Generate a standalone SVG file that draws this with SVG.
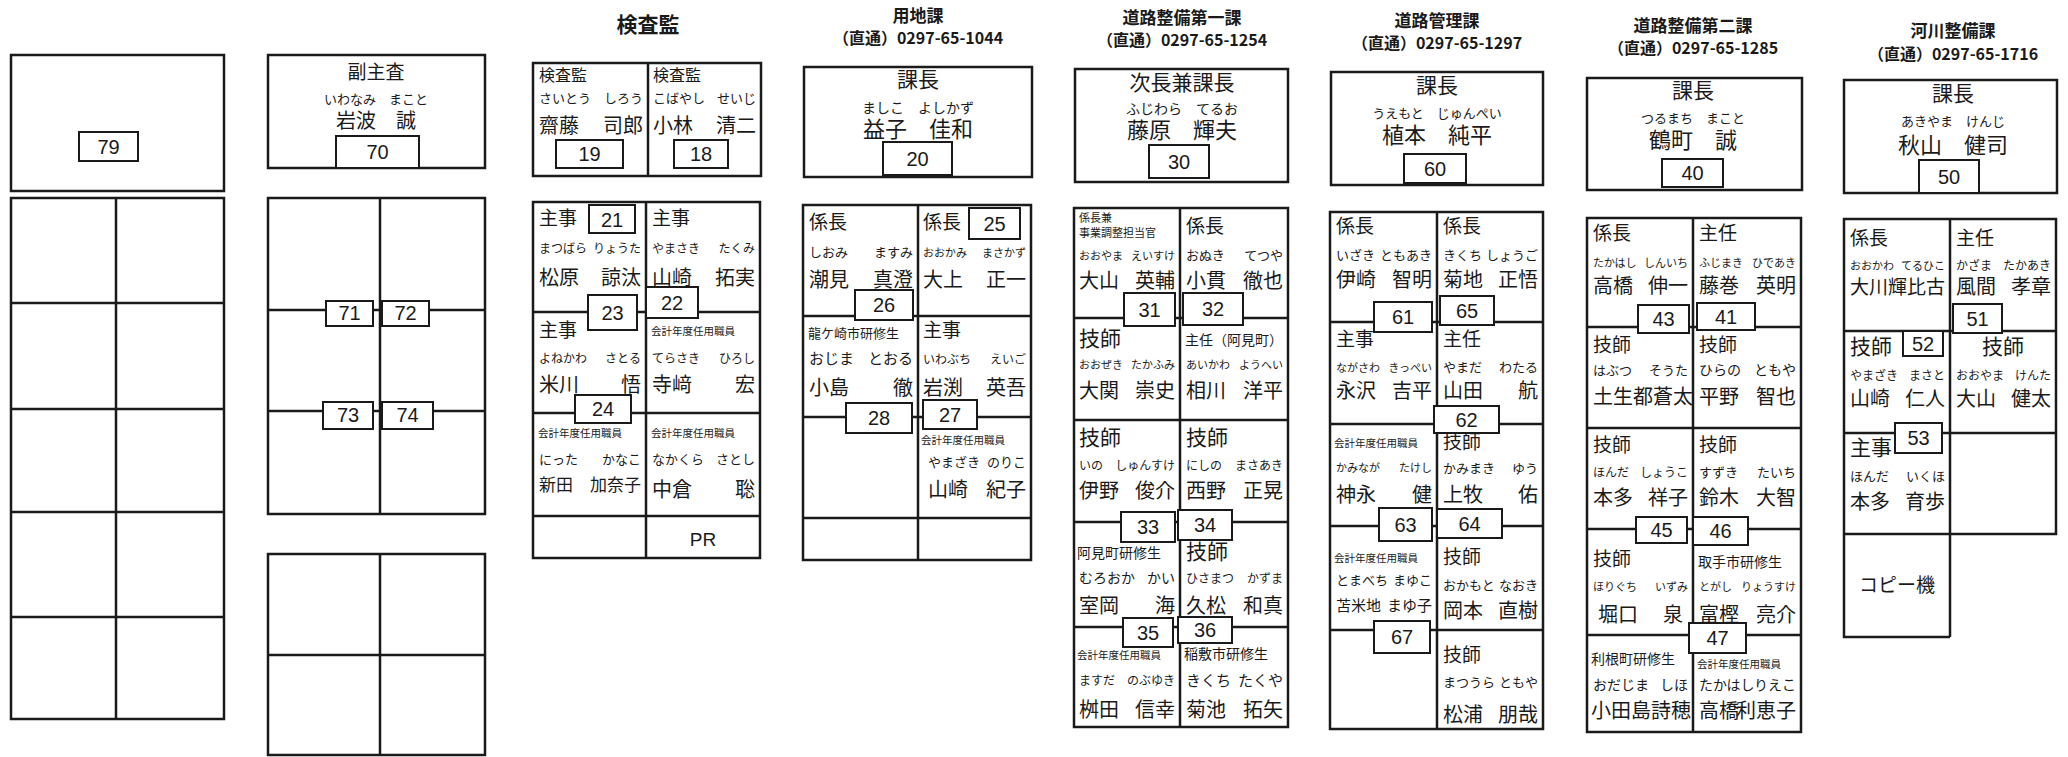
<svg xmlns="http://www.w3.org/2000/svg" width="2068" height="757" viewBox="0 0 2068 757">
<style>
text{font-family:"Noto Sans CJK JP","Noto Sans CJK SC",sans-serif;fill:#1a1a1a}
.t{font-size:17px;font-weight:bold;text-anchor:middle}
.t2{font-size:16px;font-weight:bold;text-anchor:middle}
.r{font-size:19px}
.rb{font-size:21px}
.k{font-size:13px}
.k11{font-size:11px}
.k12{font-size:12px}
.k14{font-size:14px}
.k15{font-size:15px}
.n{font-size:20px}
.n17{font-size:17px}
.n22{font-size:22px}
.s{font-size:10.5px}
.m{text-anchor:middle}
.e{text-anchor:end}
.num{font-family:"Liberation Sans",Arial,sans-serif;font-size:20px;text-anchor:middle}
.g{fill:none;stroke:#1a1a1a;stroke-width:2.5}
.nb{fill:#fff;stroke:#1a1a1a;stroke-width:2}
</style>
<rect width="2068" height="757" fill="#fff"/>
<g id="connectors"/>

<!-- Column 1 -->
<g id="col1">
  <g id="seat-79">
    <rect class="g" x="11" y="55" width="213" height="136"/>
    <rect class="nb" x="79" y="132" width="59" height="29"/><text class="num" x="108.5" y="154">79</text>
  </g>
  <g id="grid1">
    <path class="g" d="M11 198H224V719H11Z M116 198V719 M11 303H224 M11 409H224 M11 512H224 M11 617H224"/>
  </g>
</g>

<!-- Column 2 -->
<g id="col2">
  <g id="seat-70">
    <rect class="g" x="268" y="55" width="217" height="113"/>
    <text class="r m" x="376" y="79">副主査</text>
    <text class="k m" x="376" y="104">いわなみ　まこと</text>
    <text class="n m" x="376" y="128">岩波　誠</text>
    <rect class="nb" x="336" y="136" width="83" height="32"/><text class="num" x="377.5" y="159">70</text>
  </g>
  <g id="grid2">
    <path class="g" d="M268 198H485V514H268Z M380 198V514 M268 310H485 M268 411H485"/>
    <rect class="nb" x="326" y="301" width="47" height="25"/><text class="num" x="349.5" y="320">71</text>
    <rect class="nb" x="382" y="301" width="47" height="25"/><text class="num" x="405.5" y="320">72</text>
    <rect class="nb" x="323" y="402" width="50" height="27"/><text class="num" x="348" y="422">73</text>
    <rect class="nb" x="382" y="402" width="51" height="27"/><text class="num" x="407.5" y="422">74</text>
  </g>
  <g id="grid3">
    <path class="g" d="M268 554H485V755H268Z M380 554V755 M268 655H485"/>
  </g>
</g>

<!-- Column 3: 検査監 -->
<g id="col3">
  <text x="648" y="32" style="font-size:21px;font-weight:bold;text-anchor:middle">検査監</text>
  <g id="seat-19">
    <path class="g" d="M533 63H761V176H533Z M648 63V176"/>
    <text class="r" x="539" y="81" style="font-size:16px">検査監</text>
    <text class="k" x="539" y="103">さいとう</text><text class="k e" x="643" y="103">しろう</text>
    <text class="n" x="539" y="133">齋藤</text><text class="n e" x="643" y="133">司郎</text>
    <rect class="nb" x="556" y="140" width="67" height="28"/><text class="num" x="589.5" y="161">19</text>
  </g>
  <g id="seat-18">
    <text class="r" x="653" y="81" style="font-size:16px">検査監</text>
    <text class="k" x="653" y="103">こばやし</text><text class="k e" x="756" y="103">せいじ</text>
    <text class="n" x="653" y="133">小林</text><text class="n e" x="756" y="133">清二</text>
    <rect class="nb" x="674" y="140" width="54" height="28"/><text class="num" x="701" y="161">18</text>
  </g>
  <path class="g" d="M533 202H760V558H533Z M646 202V558 M533 312H760 M533 413H760 M533 516H760"/>
  <g id="seat-21">
    <text class="r" x="539" y="225">主事</text>
    <text class="k12" x="539" y="253">まつばら</text><text class="k12 e" x="641" y="253">りょうた</text>
    <text class="n" x="539" y="285">松原</text><text class="n e" x="641" y="285">諒汰</text>
  </g>
  <g id="seat-22">
    <text class="r" x="652" y="225">主事</text>
    <text class="k12" x="652" y="253">やまさき</text><text class="k12 e" x="755" y="253">たくみ</text>
    <text class="n" x="652" y="285">山崎</text><text class="n e" x="755" y="285">拓実</text>
  </g>
  <g id="seat-23">
    <text class="r" x="539" y="337">主事</text>
    <text class="k12" x="539" y="363">よねかわ</text><text class="k12 e" x="641" y="363">さとる</text>
    <text class="n" x="539" y="392">米川</text><text class="n e" x="641" y="392">悟</text>
  </g>
  <g id="seat-R2">
    <text class="s" x="651" y="335">会計年度任用職員</text>
    <text class="k12" x="652" y="363">てらさき</text><text class="k12 e" x="755" y="363">ひろし</text>
    <text class="n" x="652" y="392">寺﨑</text><text class="n e" x="755" y="392">宏</text>
  </g>
  <g id="seat-24">
    <text class="s" x="538" y="437">会計年度任用職員</text>
    <text class="k" x="539" y="464">にった</text><text class="k e" x="641" y="464">かなこ</text>
    <text class="n17" x="539" y="491">新田</text><text class="n17 e" x="641" y="491">加奈子</text>
  </g>
  <g id="seat-R3">
    <text class="s" x="651" y="437">会計年度任用職員</text>
    <text class="k" x="652" y="464">なかくら</text><text class="k e" x="755" y="464">さとし</text>
    <text class="n" x="652" y="497">中倉</text><text class="n e" x="755" y="497">聡</text>
  </g>
  <g id="pr"><text class="num" x="703" y="546" style="font-size:19px">PR</text></g>
  <rect class="nb" x="589" y="205" width="46" height="28"/><text class="num" x="612" y="227">21</text>
  <rect class="nb" x="588" y="295" width="49" height="35"/><text class="num" x="612.5" y="320">23</text>
  <rect class="nb" x="646" y="287" width="52" height="31"/><text class="num" x="672" y="310">22</text>
  <rect class="nb" x="575" y="395" width="56" height="28"/><text class="num" x="603" y="416">24</text>
</g>

<!-- Column 4: 用地課 -->
<g id="col4">
  <text class="t" x="918" y="22">用地課</text>
  <text class="t2" x="918" y="44">（直通）0297-65-1044</text>
  <g id="seat-20">
    <rect class="g" x="804" y="67" width="228" height="110"/>
    <text class="rb m" x="918" y="87">課長</text>
    <text class="k14 m" x="918" y="113">ましこ　よしかず</text>
    <text class="n22 m" x="918" y="137">益子　佳和</text>
    <rect class="nb" x="883" y="142" width="69" height="33"/><text class="num" x="917.5" y="166">20</text>
  </g>
  <path class="g" d="M803 205H1031V560H803Z M918 205V560 M803 316H1031 M803 417H1031 M803 518H1031"/>
  <g id="seat-26">
    <text class="r" x="809" y="229">係長</text>
    <text class="k" x="809" y="257">しおみ</text><text class="k e" x="913" y="257">ますみ</text>
    <text class="n" x="809" y="287">潮見</text><text class="n e" x="913" y="287">真澄</text>
  </g>
  <g id="seat-25">
    <text class="r" x="923" y="229">係長</text>
    <text class="k11" x="923" y="257">おおかみ</text><text class="k11 e" x="1026" y="257">まさかず</text>
    <text class="n" x="923" y="287">大上</text><text class="n e" x="1026" y="287">正一</text>
  </g>
  <g id="seat-28">
    <text class="k" x="808" y="338">龍ケ崎市研修生</text>
    <text class="k15" x="809" y="364">おじま</text><text class="k15 e" x="913" y="364">とおる</text>
    <text class="n" x="809" y="395">小島</text><text class="n e" x="913" y="395">徹</text>
  </g>
  <g id="seat-27">
    <text class="r" x="923" y="337">主事</text>
    <text class="k12" x="923" y="364">いわぶち</text><text class="k12 e" x="1026" y="364">えいご</text>
    <text class="n" x="923" y="395">岩渕</text><text class="n e" x="1026" y="395">英吾</text>
  </g>
  <g id="seat-R3-4">
    <text class="s" x="921" y="444">会計年度任用職員</text>
    <text class="k" x="928" y="467">やまざき</text><text class="k e" x="1026" y="467">のりこ</text>
    <text class="n" x="928" y="497">山崎</text><text class="n e" x="1026" y="497">紀子</text>
  </g>
  <rect class="nb" x="969" y="208" width="51" height="31"/><text class="num" x="994.5" y="231">25</text>
  <rect class="nb" x="855" y="290" width="58" height="30"/><text class="num" x="884" y="312">26</text>
  <rect class="nb" x="846" y="403" width="66" height="30"/><text class="num" x="879" y="425">28</text>
  <rect class="nb" x="923" y="400" width="54" height="29"/><text class="num" x="950" y="422">27</text>
</g>

<!-- Column 5: 道路整備第一課 -->
<g id="col5">
  <text class="t" x="1182" y="24">道路整備第一課</text>
  <text class="t2" x="1182" y="46">（直通）0297-65-1254</text>
  <g id="seat-30">
    <rect class="g" x="1075" y="69" width="213" height="113"/>
    <text class="rb m" x="1182" y="90">次長兼課長</text>
    <text class="k14 m" x="1182" y="114">ふじわら　てるお</text>
    <text class="n22 m" x="1182" y="138">藤原　輝夫</text>
    <rect class="nb" x="1149" y="145" width="60" height="33"/><text class="num" x="1179" y="169">30</text>
  </g>
  <path class="g" d="M1074 208H1288V727H1074Z M1180 208V727 M1074 318H1288 M1074 420H1288 M1074 522H1288 M1074 627H1288"/>
  <g id="seat-31">
    <text class="k11" x="1079" y="222">係長兼</text>
    <text class="k11" x="1079" y="237">事業調整担当官</text>
    <text class="k11" x="1079" y="260">おおやま</text><text class="k11 e" x="1175" y="260">えいすけ</text>
    <text class="n" x="1079" y="288">大山</text><text class="n e" x="1175" y="288">英輔</text>
  </g>
  <g id="seat-32">
    <text class="r" x="1186" y="233">係長</text>
    <text class="k" x="1186" y="260">おぬき</text><text class="k e" x="1283" y="260">てつや</text>
    <text class="n" x="1186" y="288">小貫</text><text class="n e" x="1283" y="288">徹也</text>
  </g>
  <g id="seat-L2-5">
    <text class="rb" x="1079" y="346">技師</text>
    <text class="k11" x="1079" y="369">おおぜき</text><text class="k11 e" x="1175" y="369">たかふみ</text>
    <text class="n" x="1079" y="398">大関</text><text class="n e" x="1175" y="398">崇史</text>
  </g>
  <g id="seat-R2-5">
    <text class="k14" x="1185" y="345">主任（阿見町）</text>
    <text class="k11" x="1186" y="369">あいかわ</text><text class="k11 e" x="1283" y="369">ようへい</text>
    <text class="n" x="1186" y="398">相川</text><text class="n e" x="1283" y="398">洋平</text>
  </g>
  <g id="seat-33">
    <text class="rb" x="1079" y="445">技師</text>
    <text class="k12" x="1079" y="470">いの</text><text class="k12 e" x="1175" y="470">しゅんすけ</text>
    <text class="n" x="1079" y="498">伊野</text><text class="n e" x="1175" y="498">俊介</text>
  </g>
  <g id="seat-34">
    <text class="rb" x="1186" y="445">技師</text>
    <text class="k12" x="1186" y="470">にしの</text><text class="k12 e" x="1283" y="470">まさあき</text>
    <text class="n" x="1186" y="498">西野</text><text class="n e" x="1283" y="498">正晃</text>
  </g>
  <g id="seat-35">
    <text class="k14" x="1077" y="558">阿見町研修生</text>
    <text class="k14" x="1079" y="583">むろおか</text><text class="k14 e" x="1175" y="583">かい</text>
    <text class="n" x="1079" y="613">室岡</text><text class="n e" x="1175" y="613">海</text>
  </g>
  <g id="seat-36">
    <text class="rb" x="1186" y="559">技師</text>
    <text class="k12" x="1186" y="583">ひさまつ</text><text class="k12 e" x="1283" y="583">かずま</text>
    <text class="n" x="1186" y="613">久松</text><text class="n e" x="1283" y="613">和真</text>
  </g>
  <g id="seat-L5-5">
    <text class="s" x="1077" y="659">会計年度任用職員</text>
    <text class="k12" x="1079" y="685">ますだ</text><text class="k12 e" x="1175" y="685">のぶゆき</text>
    <text class="n" x="1079" y="717">桝田</text><text class="n e" x="1175" y="717">信幸</text>
  </g>
  <g id="seat-R5-5">
    <text class="k14" x="1184" y="659">稲敷市研修生</text>
    <text class="k15" x="1186" y="686">きくち</text><text class="k15 e" x="1283" y="686">たくや</text>
    <text class="n" x="1186" y="717">菊池</text><text class="n e" x="1283" y="717">拓矢</text>
  </g>
  <rect class="nb" x="1124" y="293" width="51" height="33"/><text class="num" x="1149.5" y="317">31</text>
  <rect class="nb" x="1183" y="293" width="60" height="32"/><text class="num" x="1213" y="316">32</text>
  <rect class="nb" x="1121" y="512" width="54" height="30"/><text class="num" x="1148" y="534">33</text>
  <rect class="nb" x="1178" y="510" width="54" height="30"/><text class="num" x="1205" y="532">34</text>
  <rect class="nb" x="1123" y="618" width="50" height="29"/><text class="num" x="1148" y="640">35</text>
  <rect class="nb" x="1178" y="617" width="54" height="26"/><text class="num" x="1205" y="637">36</text>
</g>

<!-- Column 6: 道路管理課 -->
<g id="col6">
  <text class="t" x="1437" y="27">道路管理課</text>
  <text class="t2" x="1437" y="49">（直通）0297-65-1297</text>
  <g id="seat-60">
    <rect class="g" x="1331" y="72" width="212" height="113"/>
    <text class="rb m" x="1437" y="93">課長</text>
    <text class="k m" x="1437" y="118">うえもと　じゅんぺい</text>
    <text class="n22 m" x="1437" y="143">植本　純平</text>
    <rect class="nb" x="1404" y="154" width="62" height="29"/><text class="num" x="1435" y="176">60</text>
  </g>
  <path class="g" d="M1330 212H1543V729H1330Z M1437 212V729 M1330 322H1543 M1330 424H1543 M1330 526H1543 M1330 630H1543"/>
  <g id="seat-61">
    <text class="r" x="1336" y="233">係長</text>
    <text class="k" x="1336" y="260">いざき</text><text class="k e" x="1432" y="260">ともあき</text>
    <text class="n" x="1336" y="287">伊崎</text><text class="n e" x="1432" y="287">智明</text>
  </g>
  <g id="seat-65">
    <text class="r" x="1443" y="233">係長</text>
    <text class="k" x="1443" y="260">きくち</text><text class="k e" x="1538" y="260">しょうご</text>
    <text class="n" x="1443" y="287">菊地</text><text class="n e" x="1538" y="287">正悟</text>
  </g>
  <g id="seat-L2-6">
    <text class="r" x="1336" y="346">主事</text>
    <text class="k11" x="1336" y="372">ながさわ</text><text class="k11 e" x="1432" y="372">きっぺい</text>
    <text class="n" x="1336" y="398">永沢</text><text class="n e" x="1432" y="398">吉平</text>
  </g>
  <g id="seat-62">
    <text class="r" x="1443" y="346">主任</text>
    <text class="k" x="1443" y="372">やまだ</text><text class="k e" x="1538" y="372">わたる</text>
    <text class="n" x="1443" y="398">山田</text><text class="n e" x="1538" y="398">航</text>
  </g>
  <g id="seat-63">
    <text class="s" x="1334" y="447">会計年度任用職員</text>
    <text class="k11" x="1336" y="472">かみなが</text><text class="k11 e" x="1432" y="472">たけし</text>
    <text class="n" x="1336" y="502">神永</text><text class="n e" x="1432" y="502">健</text>
  </g>
  <g id="seat-64">
    <text class="r" x="1443" y="449">技師</text>
    <text class="k" x="1443" y="473">かみまき</text><text class="k e" x="1538" y="473">ゆう</text>
    <text class="n" x="1443" y="502">上牧</text><text class="n e" x="1538" y="502">佑</text>
  </g>
  <g id="seat-67">
    <text class="s" x="1334" y="562">会計年度任用職員</text>
    <text class="k" x="1336" y="585">とまべち</text><text class="k e" x="1432" y="585">まゆこ</text>
    <text class="k15" x="1336" y="611">苫米地</text><text class="k15 e" x="1432" y="611">まゆ子</text>
  </g>
  <g id="seat-R4-6">
    <text class="r" x="1443" y="564">技師</text>
    <text class="k" x="1443" y="590">おかもと</text><text class="k e" x="1538" y="590">なおき</text>
    <text class="n" x="1443" y="618">岡本</text><text class="n e" x="1538" y="618">直樹</text>
  </g>
  <g id="seat-R5-6">
    <text class="r" x="1443" y="662">技師</text>
    <text class="k" x="1443" y="687">まつうら</text><text class="k e" x="1538" y="687">ともや</text>
    <text class="n" x="1443" y="722">松浦</text><text class="n e" x="1538" y="722">朋哉</text>
  </g>
  <rect class="nb" x="1374" y="302" width="58" height="30"/><text class="num" x="1403" y="324">61</text>
  <rect class="nb" x="1440" y="296" width="54" height="29"/><text class="num" x="1467" y="318">65</text>
  <rect class="nb" x="1434" y="406" width="65" height="27"/><text class="num" x="1466.5" y="427">62</text>
  <rect class="nb" x="1379" y="508" width="53" height="33"/><text class="num" x="1405.5" y="532">63</text>
  <rect class="nb" x="1437" y="509" width="65" height="29"/><text class="num" x="1469.5" y="531">64</text>
  <rect class="nb" x="1374" y="621" width="56" height="32"/><text class="num" x="1402" y="644">67</text>
</g>

<!-- Column 7: 道路整備第二課 -->
<g id="col7">
  <text class="t" x="1693" y="32">道路整備第二課</text>
  <text class="t2" x="1693" y="54">（直通）0297-65-1285</text>
  <g id="seat-40">
    <rect class="g" x="1587" y="78" width="215" height="112"/>
    <text class="rb m" x="1693" y="98">課長</text>
    <text class="k m" x="1693" y="123">つるまち　まこと</text>
    <text class="n22 m" x="1693" y="148">鶴町　誠</text>
    <rect class="nb" x="1662" y="159" width="61" height="28"/><text class="num" x="1692.5" y="180">40</text>
  </g>
  <path class="g" d="M1587 218H1801V732H1587Z M1693 218V732 M1587 327H1801 M1587 428H1801 M1587 529H1801 M1587 635H1801"/>
  <g id="seat-43">
    <text class="r" x="1593" y="240">係長</text>
    <text class="k11" x="1593" y="267">たかはし</text><text class="k11 e" x="1688" y="267">しんいち</text>
    <text class="n" x="1593" y="293">高橋</text><text class="n e" x="1688" y="293">伸一</text>
  </g>
  <g id="seat-41">
    <text class="r" x="1699" y="240">主任</text>
    <text class="k11" x="1699" y="267">ふじまき</text><text class="k11 e" x="1796" y="267">ひであき</text>
    <text class="n" x="1699" y="293">藤巻</text><text class="n e" x="1796" y="293">英明</text>
  </g>
  <g id="seat-L2-7">
    <text class="r" x="1593" y="352">技師</text>
    <text class="k" x="1593" y="375">はぶつ</text><text class="k e" x="1688" y="375">そうた</text>
    <text class="n" x="1593" y="404">土生都蒼太</text>
  </g>
  <g id="seat-R2-7">
    <text class="r" x="1699" y="352">技師</text>
    <text class="k14" x="1699" y="375">ひらの</text><text class="k14 e" x="1796" y="375">ともや</text>
    <text class="n" x="1699" y="404">平野</text><text class="n e" x="1796" y="404">智也</text>
  </g>
  <g id="seat-45">
    <text class="r" x="1593" y="452">技師</text>
    <text class="k12" x="1593" y="477">ほんだ</text><text class="k12 e" x="1688" y="477">しょうこ</text>
    <text class="n" x="1593" y="505">本多</text><text class="n e" x="1688" y="505">祥子</text>
  </g>
  <g id="seat-46">
    <text class="r" x="1699" y="452">技師</text>
    <text class="k" x="1699" y="477">すずき</text><text class="k e" x="1796" y="477">たいち</text>
    <text class="n" x="1699" y="505">鈴木</text><text class="n e" x="1796" y="505">大智</text>
  </g>
  <g id="seat-L4-7">
    <text class="r" x="1593" y="566">技師</text>
    <text class="k11" x="1593" y="591">ほりぐち</text><text class="k11 e" x="1688" y="591">いずみ</text>
    <text class="n" x="1598" y="622">堀口</text><text class="n e" x="1683" y="622">泉</text>
  </g>
  <g id="seat-47">
    <text class="k14" x="1698" y="567">取手市研修生</text>
    <text class="k11" x="1699" y="591">とがし</text><text class="k11 e" x="1796" y="591">りょうすけ</text>
    <text class="n" x="1699" y="622">富樫</text><text class="n e" x="1796" y="622">亮介</text>
  </g>
  <g id="seat-L5-7">
    <text class="k14" x="1591" y="664">利根町研修生</text>
    <text class="k14" x="1593" y="690">おだじま</text><text class="k14 e" x="1688" y="690">しほ</text>
    <text class="n" x="1591" y="718">小田島詩穂</text>
  </g>
  <g id="seat-R5-7">
    <text class="s" x="1697" y="668">会計年度任用職員</text>
    <text class="k14" x="1699" y="690">たかはし</text><text class="k14 e" x="1796" y="690">りえこ</text>
    <text class="n" x="1699" y="718">高橋</text><text class="n e" x="1796" y="718">利恵子</text>
  </g>
  <rect class="nb" x="1638" y="305" width="51" height="28"/><text class="num" x="1663.5" y="326">43</text>
  <rect class="nb" x="1697" y="303" width="58" height="27"/><text class="num" x="1726" y="324">41</text>
  <rect class="nb" x="1636" y="517" width="51" height="26"/><text class="num" x="1661.5" y="537">45</text>
  <rect class="nb" x="1693" y="517" width="55" height="28"/><text class="num" x="1720.5" y="538">46</text>
  <rect class="nb" x="1689" y="623" width="57" height="30"/><text class="num" x="1717.5" y="645">47</text>
</g>

<!-- Column 8: 河川整備課 -->
<g id="col8">
  <text class="t" x="1953" y="37">河川整備課</text>
  <text class="t2" x="1953" y="60">（直通）0297-65-1716</text>
  <g id="seat-50">
    <rect class="g" x="1844" y="80" width="213" height="113"/>
    <text class="rb m" x="1953" y="101">課長</text>
    <text class="k m" x="1953" y="126">あきやま　けんじ</text>
    <text class="n22 m" x="1953" y="153">秋山　健司</text>
    <rect class="nb" x="1919" y="160" width="60" height="33"/><text class="num" x="1949" y="184">50</text>
  </g>
  <path class="g" d="M1844 219H2056V534H1844Z M1950 219V637 M1844 331H2056 M1844 433H2056 M1844 534V637H1950"/>
  <g id="seat-L1-8">
    <text class="r" x="1850" y="245">係長</text>
    <text class="k11" x="1850" y="270">おおかわ</text><text class="k11 e" x="1945" y="270">てるひこ</text>
    <text class="r" x="1850" y="294">大川輝比古</text>
  </g>
  <g id="seat-51">
    <text class="r" x="1956" y="245">主任</text>
    <text class="k12" x="1956" y="270">かざま</text><text class="k12 e" x="2051" y="270">たかあき</text>
    <text class="n" x="1956" y="294">風間</text><text class="n e" x="2051" y="294">孝章</text>
  </g>
  <g id="seat-52">
    <text class="rb" x="1850" y="354">技師</text>
    <text class="k12" x="1850" y="380">やまざき</text><text class="k12 e" x="1945" y="380">まさと</text>
    <text class="n" x="1850" y="406">山崎</text><text class="n e" x="1945" y="406">仁人</text>
  </g>
  <g id="seat-R2-8">
    <text class="rb m" x="2003" y="354">技師</text>
    <text class="k12" x="1956" y="380">おおやま</text><text class="k12 e" x="2051" y="380">けんた</text>
    <text class="n" x="1956" y="406">大山</text><text class="n e" x="2051" y="406">健太</text>
  </g>
  <g id="seat-53">
    <text class="rb" x="1850" y="455">主事</text>
    <text class="k" x="1850" y="481">ほんだ</text><text class="k e" x="1945" y="481">いくほ</text>
    <text class="n" x="1850" y="509">本多</text><text class="n e" x="1945" y="509">育歩</text>
  </g>
  <g id="copier"><text class="r m" x="1897" y="592">コピー機</text></g>
  <rect class="nb" x="1953" y="304" width="49" height="29"/><text class="num" x="1977.5" y="326">51</text>
  <rect class="nb" x="1903" y="331" width="40" height="25"/><text class="num" x="1923" y="351">52</text>
  <rect class="nb" x="1895" y="423" width="47" height="30"/><text class="num" x="1918.5" y="445">53</text>
</g>
</svg>
